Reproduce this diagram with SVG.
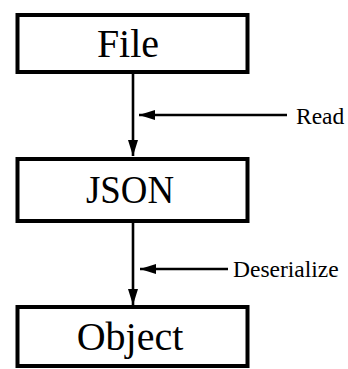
<svg xmlns="http://www.w3.org/2000/svg" width="348" height="369" viewBox="0 0 348 369">
<style>
.box{fill:#fff;stroke:#000;stroke-width:4}
.lbl{font-family:"Liberation Serif",serif;font-size:40px;text-anchor:middle;fill:#000}
.sm{font-family:"Liberation Serif",serif;font-size:23.5px;fill:#000}
.ln{stroke:#000;stroke-width:2.6;fill:none}
</style>
<defs>
<marker id="ah" viewBox="0 0 16 10" refX="16" refY="5" markerWidth="16" markerHeight="10" markerUnits="userSpaceOnUse" orient="auto">
<path d="M0,0 L16,5 L0,10 Z" fill="#000"/>
</marker>
</defs>
<g id="connectors">
<line class="ln" x1="133" y1="74" x2="133" y2="156" marker-end="url(#ah)"/>
<line class="ln" x1="287" y1="115" x2="139" y2="115" marker-end="url(#ah)"/>
<line class="ln" x1="133" y1="223" x2="133" y2="305" marker-end="url(#ah)"/>
<line class="ln" x1="228" y1="269" x2="140" y2="269" marker-end="url(#ah)"/>
</g>
<g id="file"><rect class="box" x="17.5" y="15" width="230" height="57"/><text class="lbl" x="128" y="57">File</text></g>
<g id="json"><rect class="box" x="17.5" y="159" width="230" height="62"/><text class="lbl" x="130" y="203" textLength="88" lengthAdjust="spacingAndGlyphs">JSON</text></g>
<g id="object"><rect class="box" x="17.5" y="307" width="230" height="59"/><text class="lbl" x="130" y="350">Object</text></g>
<text class="sm" x="296" y="124">Read</text>
<text class="sm" x="233" y="277">Deserialize</text>
</svg>
